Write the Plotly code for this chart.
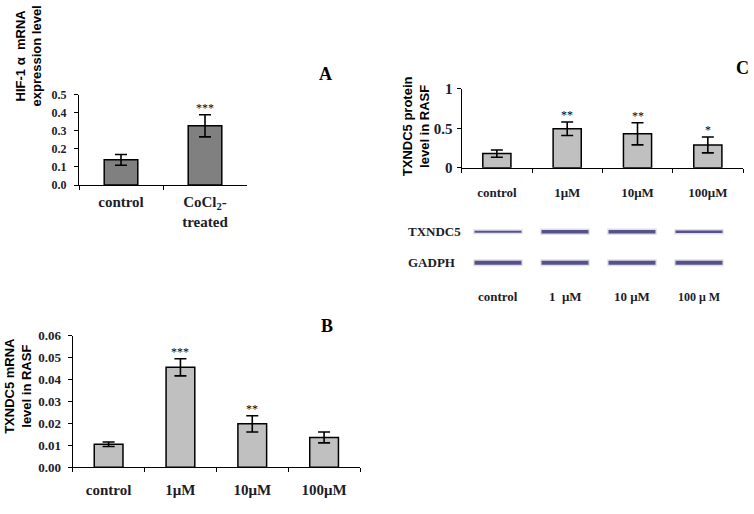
import plotly.graph_objects as go

# ---------------- data ----------------
a_cats = ["control", "CoCl<sub>2</sub>-<br>treated"]
a_vals = [0.139, 0.327]
a_err = [0.030, 0.061]
a_sig = ["", "***"]

b_cats = ["control", "1\u03bcM", "10\u03bcM", "100\u03bcM"]
b_vals = [0.0105, 0.0456, 0.0198, 0.0136]
b_err = [0.0010, 0.0039, 0.0037, 0.0025]
b_sig = ["", "***", "**", ""]

c_cats = ["control", "1\u03bcM", "10\u03bcM", "100\u03bcM"]
c_vals = [0.18, 0.494, 0.43, 0.29]
c_err = [0.045, 0.085, 0.14, 0.10]
c_sig = ["", "**", "**", "*"]

blot_lanes = ["control", "1  \u03bcM", "10 \u03bcM", "100 \u03bc M"]
blot_rows = ["GADPH", "TXNDC5"]
txndc5_band = [2.0, 3.5, 3.5, 2.5]
gadph_band = [4.0, 4.0, 4.0, 4.0]

W, H = 754, 514
def px(x0, x1):
    return [x0 / W, x1 / W]
def py(ytop, ybot):
    return [(H - ybot) / H, (H - ytop) / H]

SERIF = "Liberation Serif, Times New Roman, serif"
SANS = "Liberation Sans, Arial, sans-serif"
INK = "#1c1c2a"

fig = go.Figure()

def add_bars(cats, vals, errs, color, xa, ya):
    fig.add_trace(go.Bar(
        x=cats, y=vals, xaxis=xa, yaxis=ya, width=0.4,
        marker=dict(color=color, line=dict(color="black", width=1.5)),
        error_y=dict(type="data", array=errs, visible=True, color="black",
                     thickness=1.6, width=6),
        hoverinfo="skip"))

add_bars(a_cats, a_vals, a_err, "#808080", "x", "y")
add_bars(b_cats, b_vals, b_err, "#c0c0c0", "x2", "y2")
add_bars(c_cats, c_vals, c_err, "#c0c0c0", "x3", "y3")

# ---------------- blot ----------------
halo = "rgba(130,120,180,0.25)"
core = "rgba(62,56,120,0.85)"
for row_idx, bands in ((1, txndc5_band), (0, gadph_band)):
    for lane, thick in enumerate(bands):
        fig.add_trace(go.Scatter(
            x=[lane - 0.37, lane + 0.37], y=[row_idx, row_idx],
            mode="lines", xaxis="x4", yaxis="y4",
            line=dict(color=halo, width=thick + 3), hoverinfo="skip"))
        fig.add_trace(go.Scatter(
            x=[lane - 0.35, lane + 0.35], y=[row_idx, row_idx],
            mode="lines", xaxis="x4", yaxis="y4",
            line=dict(color=core, width=thick), hoverinfo="skip"))

common_x = dict(type="category", showline=True, linecolor="black", linewidth=1.2,
                ticks="outside", ticklen=4, tickcolor="black", tickson="boundaries",
                showgrid=False, zeroline=False)
common_y = dict(showline=True, linecolor="black", linewidth=1.2, ticks="outside",
                ticklen=4, tickcolor="black", showgrid=False, zeroline=False)

fig.update_layout(
    width=W, height=H, margin=dict(l=0, r=0, t=0, b=0),
    paper_bgcolor="white", plot_bgcolor="rgba(0,0,0,0)", showlegend=False,
    bargap=0.6,
    xaxis=dict(**common_x, domain=px(79, 247), anchor="y", range=[-0.5, 1.5],
               tickfont=dict(family=SERIF, size=15, color=INK, weight="bold"),
               ticklabelstandoff=3),
    yaxis=dict(**common_y, domain=py(89.3, 182.7), anchor="x", range=[0, 0.5],
               dtick=0.1, tickformat=".1f",
               tickfont=dict(family=SERIF, size=12, color=INK, weight="bold"),
               ticklabelstandoff=5),
    xaxis2=dict(**common_x, domain=px(72.7, 360), anchor="y2", range=[-0.5, 3.5],
                tickfont=dict(family=SERIF, size=15, color=INK, weight="bold"),
                ticklabelstandoff=9),
    yaxis2=dict(**common_y, domain=py(338.3, 474), anchor="x2", range=[0, 0.06],
                dtick=0.01, tickformat=".2f",
                tickfont=dict(family=SERIF, size=13, color=INK, weight="bold"),
                ticklabelstandoff=4),
    xaxis3=dict(**common_x, domain=px(461.7, 743), anchor="y3", range=[-0.5, 3.5],
                tickfont=dict(family=SERIF, size=13, color=INK, weight="bold"),
                ticklabelstandoff=12),
    yaxis3=dict(**common_y, domain=py(83.3, 165), anchor="x3", range=[0, 1],
                tickvals=[0, 0.5, 1], ticktext=["0", "0.5", "1"],
                tickfont=dict(family=SERIF, size=15, color=INK, weight="bold"),
                ticklabelstandoff=1),
    xaxis4=dict(domain=px(464.5, 732.5), anchor="y4", range=[-0.5, 3.5],
                visible=False),
    yaxis4=dict(domain=py(215, 311), anchor="x4", range=[-1.5, 1.5],
                visible=False),
)

ann = []
# axis titles
for text, xx, yy in (("HIF-1 \u03b1  mRNA<br>expression level", 29, 50),
                     ("TXNDC5 mRNA<br>level in RASF", 18, 390),
                     ("TXNDC5 protein<br>level in RASF", 416, 122)):
    ann.append(dict(text="<b>%s</b>" % text, x=xx / W, y=(H - yy) / H,
                    xref="paper", yref="paper", textangle=-90, showarrow=False,
                    xanchor="center", yanchor="middle",
                    font=dict(family=SANS, size=13, color="black")))
# panel letters
for letter, xx, yy in (("A", 325, 68), ("B", 327, 328), ("C", 742, 62)):
    ann.append(dict(text="<b>%s</b>" % letter, x=xx / W, y=(H - yy) / H, xref="paper",
                    yref="paper", showarrow=False, xanchor="center", yanchor="middle",
                    font=dict(family=SERIF, size=18, color="black")))
# significance stars
for vals, errs, sig, xr, yr in ((a_vals, a_err, a_sig, "x", "y"),
                                (b_vals, b_err, b_sig, "x2", "y2"),
                                (c_vals, c_err, c_sig, "x3", "y3")):
    for i, s in enumerate(sig):
        if s:
            ann.append(dict(text=s, x=i, y=vals[i] + errs[i], xref=xr, yref=yr,
                            yanchor="bottom", showarrow=False, yshift=-2,
                            font=dict(family=SERIF, size=12, color="black")))
# blot labels
for name, r in (("TXNDC5", 1), ("GADPH", 0)):
    ann.append(dict(text="<b>%s</b>" % name, x=406 / W, y=r, xref="paper", yref="y4",
                    xanchor="left", yanchor="middle", showarrow=False,
                    font=dict(family=SERIF, size=13, color=INK)))
for i, lab in enumerate(blot_lanes):
    ann.append(dict(text="<b>%s</b>" % lab, x=i, y=-1.1, xref="x4", yref="y4",
                    showarrow=False, xanchor="center", yanchor="middle",
                    font=dict(family=SERIF, size=13 if i < 3 else 12, color=INK)))
fig.update_layout(annotations=ann)

fig.write_html("out.html", config={"displayModeBar": False},
               post_script="document.body.style.margin='0';document.body.style.overflow='hidden';")
